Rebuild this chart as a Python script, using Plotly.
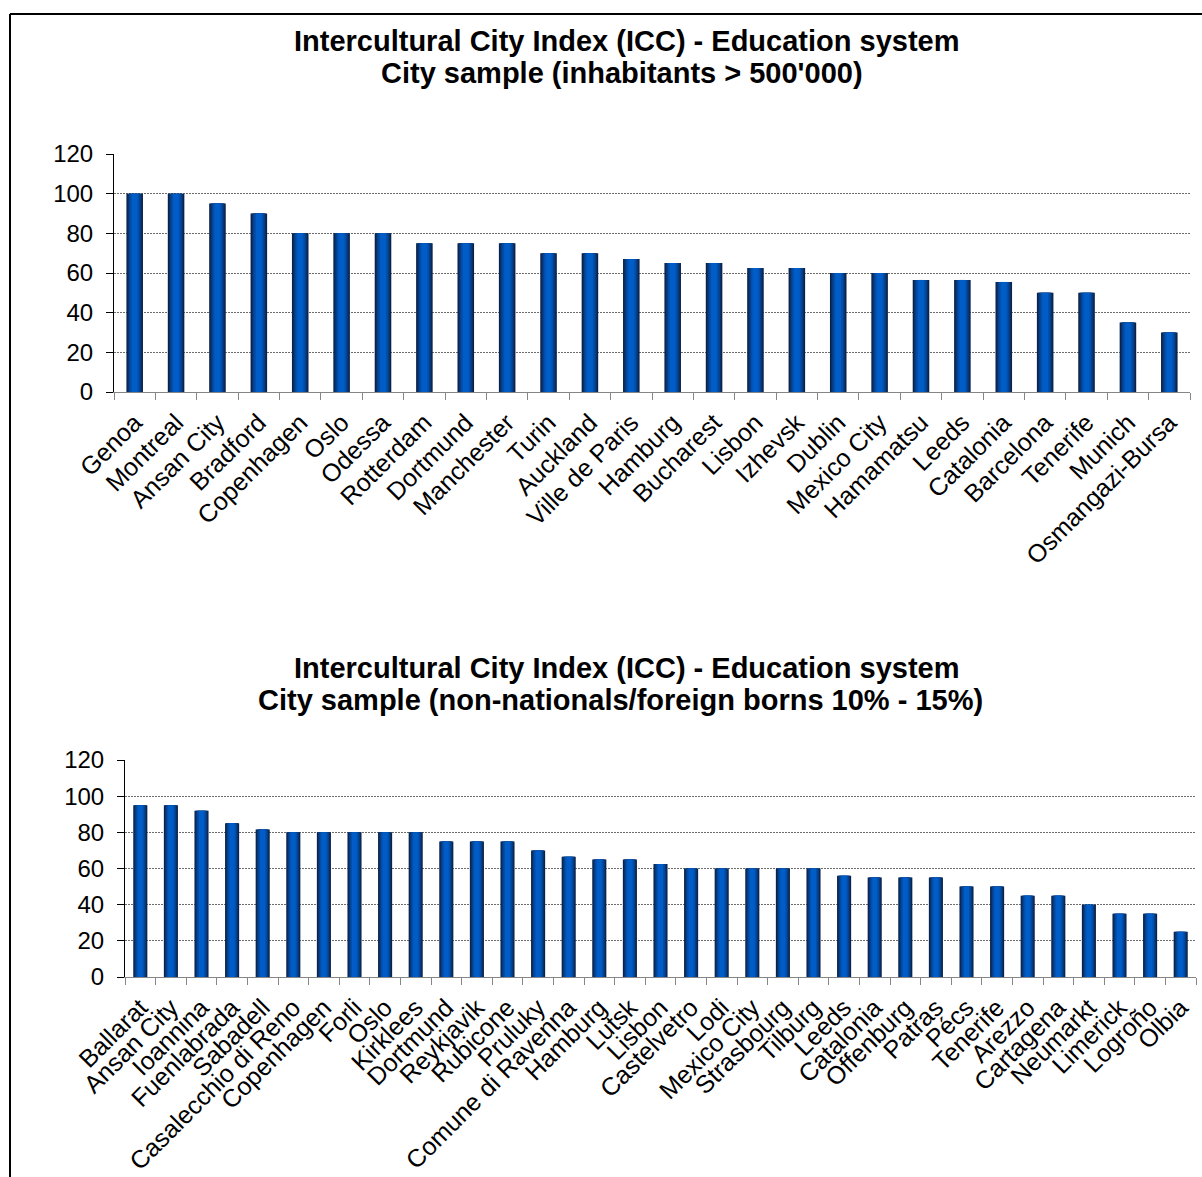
import plotly.graph_objects as go

# --- data -------------------------------------------------------------
big_cities = [
    "Genoa", "Montreal", "Ansan City", "Bradford", "Copenhagen", "Oslo",
    "Odessa", "Rotterdam", "Dortmund", "Manchester", "Turin", "Auckland",
    "Ville de Paris", "Hamburg", "Bucharest", "Lisbon", "Izhevsk", "Dublin",
    "Mexico City", "Hamamatsu", "Leeds", "Catalonia", "Barcelona",
    "Tenerife", "Munich", "Osmangazi-Bursa",
]
big_scores = [
    100, 100, 95, 90, 80, 80,
    80, 75, 75, 75, 70, 70,
    67, 65, 65, 62.5, 62.5, 60,
    60, 56.5, 56.5, 55.5, 50,
    50, 35, 30,
]

foreign_cities = [
    "Ballarat", "Ansan City", "Ioannina", "Fuenlabrada", "Sabadell",
    "Casalecchio di Reno", "Copenhagen", "Forli", "Oslo", "Kirklees",
    "Dortmund", "Reykjavik", "Rubicone", "Pruluky", "Comune di Ravenna",
    "Hamburg", "Lutsk", "Lisbon", "Castelvetro", "Lodi", "Mexico City",
    "Strasbourg", "Tilburg", "Leeds", "Catalonia", "Offenburg", "Patras",
    "Pécs", "Tenerife", "Arezzo", "Cartagena", "Neumarkt", "Limerick",
    "Logroño", "Olbia",
]
foreign_scores = [
    95, 95, 92, 85, 81.5,
    80, 80, 80, 80, 80,
    75, 75, 75, 70, 66.5,
    65, 65, 62.5, 60, 60, 60,
    60, 60, 56, 55, 55, 55,
    50, 50, 45, 45, 40, 35,
    35, 25,
]

title_line1 = "Intercultural City Index (ICC) - Education system"
top_line2 = "City sample (inhabitants > 500'000)"
bottom_line2 = "City sample (non-nationals/foreign borns 10% - 15%)"
y_ticks = [0, 20, 40, 60, 80, 100, 120]

# --- page geometry (pixels) --------------------------------------------
W, H = 1202, 1177


def px_x(x):
    return x / W


def px_y(y):
    return 1 - y / H


FONT = "Liberation Sans, Arial, sans-serif"

# cylinder-like shading: stacked bars of shrinking width, dark edges -> bright core
SHADES = [
    (1.00, "#0a2249"),
    (0.86, "#0a3069"),
    (0.72, "#073f89"),
    (0.56, "#024faa"),
    (0.36, "#005cc6"),
]

fig = go.Figure()


def add_bars(cats, vals, bar_width, xaxis, yaxis):
    for frac, color in SHADES:
        fig.add_trace(go.Bar(
            x=cats, y=vals, width=bar_width * frac,
            marker=dict(color=color, line=dict(width=0)),
            xaxis=xaxis, yaxis=yaxis, hoverinfo="x+y",
        ))


add_bars(big_cities, big_scores, 0.40, "x", "y")
add_bars(foreign_cities, foreign_scores, 0.46, "x2", "y2")

xaxis_style = dict(
    type="category", showline=True, linecolor="#868686", linewidth=1,
    ticks="outside", tickson="boundaries", ticklen=7, tickcolor="#868686",
    tickangle=-45, tickfont=dict(family=FONT, size=25, color="black"),
    ticklabelstandoff=5,
    showgrid=False, zeroline=False, fixedrange=True, automargin=False,
)
yaxis_style = dict(
    range=[0, 120], tickvals=y_ticks, showline=True, linecolor="black",
    linewidth=1, ticks="outside", ticklen=7, tickcolor="black",
    tickfont=dict(family=FONT, size=24, color="black"), ticklabelstandoff=8,
    showgrid=True, gridcolor="#6e6e6e", gridwidth=1, griddash="2px,1px",
    zeroline=False, fixedrange=True, automargin=False,
)

fig.update_layout(
    width=W, height=H,
    margin=dict(l=0, r=0, t=0, b=0, autoexpand=False),
    paper_bgcolor="white", plot_bgcolor="white",
    barmode="overlay", showlegend=False,
    xaxis=dict(domain=[px_x(114), px_x(1190)], anchor="y", **xaxis_style),
    yaxis=dict(domain=[px_y(392), px_y(154)], anchor="x", **yaxis_style),
    xaxis2=dict(domain=[px_x(125), px_x(1196)], anchor="y2", **xaxis_style),
    yaxis2=dict(domain=[px_y(977), px_y(760)], anchor="x2", **yaxis_style),
)

# chart titles
title_font = dict(family=FONT, size=29, color="black", weight="bold")
for text, cx, cy in [
    (title_line1, 627, 41), (top_line2, 622, 73),
    (title_line1, 627, 668), (bottom_line2, 620, 700),
]:
    fig.add_annotation(
        text=text, x=px_x(cx), y=px_y(cy), xref="paper", yref="paper",
        xanchor="center", yanchor="middle", showarrow=False, font=title_font,
    )

# outer frame (top and left edges)
frame = dict(color="black", width=2)
fig.add_shape(type="line", xref="paper", yref="paper",
              x0=px_x(10), y0=px_y(14), x1=1.0, y1=px_y(14), line=frame)
fig.add_shape(type="line", xref="paper", yref="paper",
              x0=px_x(10), y0=px_y(14), x1=px_x(10), y1=0.0, line=frame)

fig.write_html("out.html")
